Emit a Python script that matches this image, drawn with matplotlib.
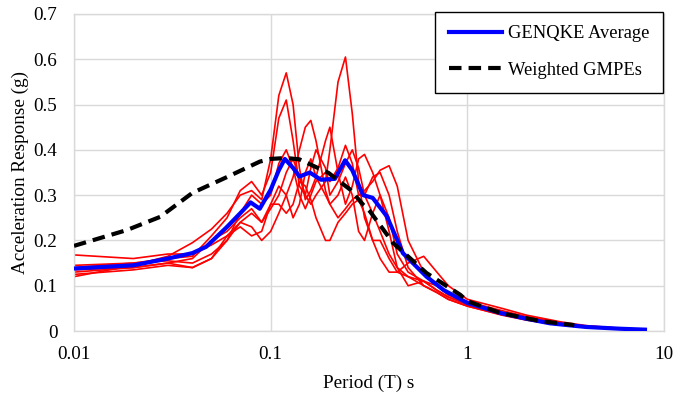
import numpy as np
import matplotlib
matplotlib.use("Agg")
import matplotlib.pyplot as plt
from matplotlib.ticker import FixedLocator, FixedFormatter, FormatStrFormatter

plt.rcParams['font.family'] = ['Liberation Serif', 'DejaVu Serif']

# periods (s) for the individual GENQKE records
period = [0.01, 0.02, 0.03, 0.04, 0.05, 0.06, 0.07, 0.08, 0.09, 0.10,
          0.11, 0.12, 0.13, 0.14, 0.15, 0.16, 0.17, 0.19, 0.20, 0.22,
          0.24, 0.26, 0.28, 0.30, 0.33, 0.36, 0.40, 0.44, 0.50, 0.60,
          0.70, 0.80, 1.0, 1.5, 2.0, 3.0, 4.0, 6.0, 8.0]

rec1 = [0.120, 0.145, 0.165, 0.195, 0.225, 0.260, 0.300, 0.310, 0.290, 0.380,
        0.520, 0.570, 0.500, 0.360, 0.290, 0.310, 0.340, 0.300, 0.280, 0.300,
        0.340, 0.300, 0.220, 0.200, 0.260, 0.300, 0.250, 0.170, 0.130, 0.110,
        0.090, 0.075, 0.060, 0.038, 0.026, 0.014, 0.009, 0.005, 0.003]
rec2 = [0.140, 0.150, 0.160, 0.165, 0.210, 0.250, 0.310, 0.330, 0.300, 0.350,
        0.470, 0.510, 0.420, 0.320, 0.300, 0.360, 0.400, 0.360, 0.300, 0.330,
        0.370, 0.400, 0.360, 0.300, 0.260, 0.220, 0.170, 0.140, 0.120, 0.100,
        0.085, 0.070, 0.055, 0.036, 0.025, 0.014, 0.009, 0.005, 0.003]
rec3 = [0.130, 0.140, 0.150, 0.160, 0.200, 0.220, 0.250, 0.270, 0.240, 0.270,
        0.300, 0.350, 0.380, 0.340, 0.300, 0.280, 0.300, 0.330, 0.400, 0.550,
        0.605, 0.480, 0.330, 0.250, 0.200, 0.200, 0.160, 0.130, 0.120, 0.110,
        0.090, 0.075, 0.058, 0.040, 0.028, 0.016, 0.010, 0.005, 0.003]
rec4 = [0.145, 0.150, 0.155, 0.150, 0.170, 0.200, 0.240, 0.230, 0.200, 0.220,
        0.260, 0.300, 0.340, 0.400, 0.450, 0.465, 0.420, 0.310, 0.280, 0.250,
        0.270, 0.290, 0.300, 0.310, 0.330, 0.355, 0.365, 0.320, 0.200, 0.130,
        0.100, 0.080, 0.065, 0.045, 0.032, 0.018, 0.011, 0.006, 0.003]
rec5 = [0.135, 0.140, 0.150, 0.140, 0.160, 0.210, 0.230, 0.210, 0.220, 0.280,
        0.320, 0.300, 0.250, 0.280, 0.350, 0.380, 0.340, 0.420, 0.450, 0.350,
        0.280, 0.320, 0.380, 0.390, 0.350, 0.300, 0.220, 0.140, 0.100, 0.110,
        0.100, 0.080, 0.060, 0.040, 0.027, 0.015, 0.010, 0.005, 0.003]
rec6 = [0.168, 0.160, 0.170, 0.170, 0.190, 0.210, 0.240, 0.260, 0.240, 0.280,
        0.280, 0.260, 0.280, 0.330, 0.320, 0.290, 0.250, 0.200, 0.200, 0.240,
        0.260, 0.280, 0.290, 0.260, 0.200, 0.160, 0.130, 0.130, 0.150, 0.165,
        0.130, 0.100, 0.070, 0.050, 0.035, 0.020, 0.012, 0.006, 0.003]
rec7 = [0.125, 0.135, 0.145, 0.140, 0.160, 0.200, 0.260, 0.300, 0.280, 0.300,
        0.370, 0.400, 0.360, 0.300, 0.270, 0.300, 0.330, 0.350, 0.330, 0.360,
        0.410, 0.370, 0.300, 0.300, 0.340, 0.350, 0.300, 0.220, 0.140, 0.100,
        0.085, 0.070, 0.055, 0.035, 0.024, 0.013, 0.008, 0.004, 0.002]
records = [rec1, rec2, rec3, rec4, rec5, rec6, rec7]

# GENQKE average
avg_T = [0.01, 0.02, 0.03, 0.04, 0.047, 0.06, 0.07, 0.079, 0.088, 0.10,
         0.11, 0.118, 0.13, 0.14, 0.158, 0.18, 0.212, 0.239, 0.26, 0.295,
         0.33, 0.39, 0.47, 0.62, 0.76, 1.0, 1.47, 2.0, 2.63, 4.0, 6.0, 8.0]
avg_Sa = [0.138, 0.145, 0.160, 0.172, 0.186, 0.230, 0.260, 0.284, 0.270, 0.312,
          0.355, 0.380, 0.360, 0.341, 0.350, 0.334, 0.336, 0.377, 0.355, 0.300,
          0.294, 0.253, 0.172, 0.120, 0.090, 0.062, 0.040, 0.027, 0.017, 0.009,
          0.005, 0.003]

# weighted GMPEs
gmpe_T = [0.01, 0.0186, 0.0274, 0.04, 0.06, 0.088, 0.10, 0.12, 0.14, 0.197,
          0.254, 0.295, 0.32, 0.42, 0.62, 0.92, 1.0, 1.47, 2.35, 3.5]
gmpe_Sa = [0.188, 0.223, 0.252, 0.305, 0.340, 0.374, 0.380, 0.382, 0.379, 0.349,
           0.312, 0.279, 0.264, 0.194, 0.128, 0.080, 0.066, 0.040, 0.022, 0.013]

fig = plt.figure(figsize=(6.74, 3.95), dpi=100)
ax = fig.add_axes([0.1098, 0.162, 0.8754, 0.8026])

for r in records:
    ax.plot(period, r, color='#ff0000', lw=1.2, zorder=2, solid_joinstyle='round')
ax.plot(avg_T, avg_Sa, color='#0000ff', lw=3.0, zorder=3,
        solid_joinstyle='round', label='GENQKE Average')
ax.plot(gmpe_T, gmpe_Sa, color='black', lw=3.0, zorder=4,
        dashes=(3, 1.7), dash_capstyle='butt', label='Weighted GMPEs')

ax.set_xscale('log')
ax.set_xlim(0.01, 10)
ax.set_ylim(0, 0.7)
ax.xaxis.set_major_locator(FixedLocator([0.01, 0.1, 1, 10]))
ax.xaxis.set_major_formatter(FixedFormatter(['0.01', '0.1', '1', '10']))
ax.xaxis.set_minor_locator(FixedLocator([]))
ax.set_yticks(np.arange(0, 0.71, 0.1))
ax.yaxis.set_major_formatter(FormatStrFormatter('%g'))
ax.tick_params(length=0, labelsize=13.8)
ax.tick_params(axis='y', pad=12)
ax.tick_params(axis='x', pad=11)
ax.grid(True, color='#d9d9d9', lw=1.0)
ax.set_axisbelow(True)
for s in ax.spines.values():
    s.set_color('#d9d9d9')
    s.set_linewidth(1.0)

ax.set_xlabel('Period (T) s', fontsize=13.8, labelpad=8)
ax.set_ylabel('Acceleration Response (g)', fontsize=13.8, labelpad=3)

leg = ax.legend(loc='upper right', bbox_to_anchor=(663 / 674, 1 - 11.5 / 395),
                bbox_transform=fig.transFigure, borderaxespad=0, fontsize=13.3,
                handlelength=2.9, labelspacing=1.05, borderpad=0.75,
                handletextpad=0.3, fancybox=False, framealpha=1)
leg.get_frame().set_edgecolor('black')
leg.get_frame().set_linewidth(1.0)

fig.savefig('out.png', dpi=100)
